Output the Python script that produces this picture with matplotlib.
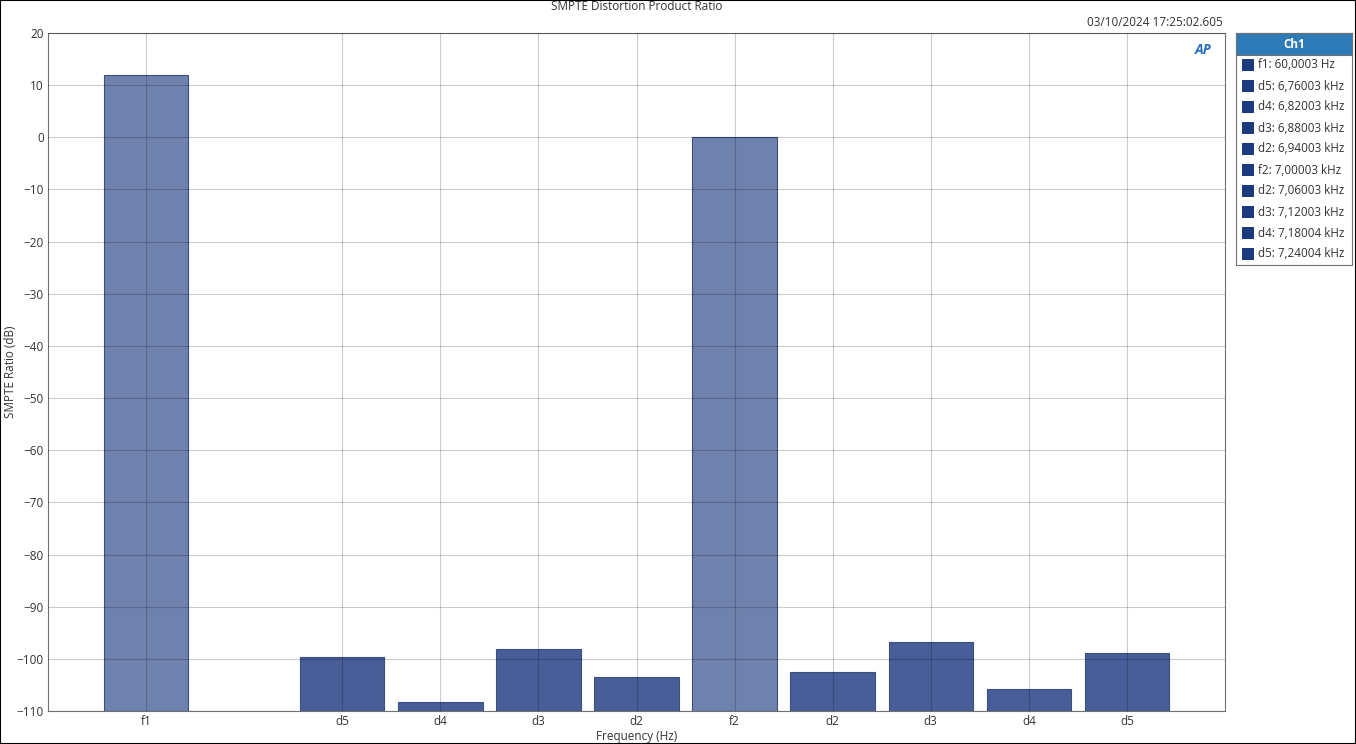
import numpy as np
import matplotlib
matplotlib.use("Agg")
import matplotlib.pyplot as plt
from matplotlib.patches import Rectangle

# data
positions = [0, 2, 3, 4, 5, 6, 7, 8, 9, 10]
labels = ["f1", "d5", "d4", "d3", "d2", "f2", "d2", "d3", "d4", "d5"]
ratio_db = [11.9, -99.7, -108.2, -98.2, -103.4, 0.0, -102.6, -96.8, -105.8, -98.9]
legend_items = ["f1: 60,0003 Hz", "d5: 6,76003 kHz", "d4: 6,82003 kHz",
                "d3: 6,88003 kHz", "d2: 6,94003 kHz", "f2: 7,00003 kHz",
                "d2: 7,06003 kHz", "d3: 7,12003 kHz", "d4: 7,18004 kHz",
                "d5: 7,24004 kHz"]

plt.rcParams['font.family'] = ['Open Sans', 'DejaVu Sans']

W, H = 1356, 744
fig = plt.figure(figsize=(W / 100, H / 100), dpi=100)
ax = fig.add_axes([48 / W, 1 - 711 / H, (1225 - 48) / W, (711 - 33) / H])

base = -110
colors = ["#6f82ae" if l.startswith("f") else "#475e98" for l in labels]
heights = [v - base for v in ratio_db]
ax.bar(positions, heights, bottom=base, width=0.86, color=colors,
       edgecolor="#3b4e7e", linewidth=0.8, zorder=1)

ax.set_xlim(-1, 11)
ax.set_ylim(-110, 20)
ax.set_yticks(np.arange(-110, 21, 10))
ax.set_xticks(positions)
ax.set_xticklabels(labels)
# translucent grid so it shows darker over the bars
ax.grid(True, color="black", alpha=0.2, linewidth=0.8, zorder=2)
ax.set_axisbelow(False)
for s in ax.spines.values():
    s.set_color("#707070")
ax.tick_params(length=0, labelsize=8.5, colors="#333333", pad=3)
ax.set_xlabel("Frequency (Hz)", fontsize=8.5, color="#333333", labelpad=1)

fig.text(11 / W, 1 - 372 / H, "SMPTE Ratio (dB)", rotation=90, ha="center",
         va="center", fontsize=8.5, color="#333333")
fig.text(637 / W, 1 - 7 / H, "SMPTE Distortion Product Ratio", ha="center",
         va="center", fontsize=8.5, color="#333333")
fig.text(1223 / W, 1 - 22 / H, "03/10/2024 17:25:02.605", ha="right",
         va="center", fontsize=8.5, color="#333333")
fig.text(1203 / W, 1 - 50 / H, "AP", ha="center", va="center", fontsize=10,
         fontweight="bold", style="italic", color="#2a6fc0")

# legend panel drawn by hand
lx0, lx1, ly0, ly1 = 1236, 1352, 33, 265
fig.patches.append(Rectangle((lx0 / W, 1 - ly1 / H), (lx1 - lx0) / W,
                             (ly1 - ly0) / H, transform=fig.transFigure,
                             facecolor="white", edgecolor="#707070", lw=0.8))
fig.patches.append(Rectangle((lx0 / W, 1 - 55 / H), (lx1 - lx0) / W,
                             22 / H, transform=fig.transFigure,
                             facecolor="#2f7bb8", edgecolor="#707070", lw=0.8))
fig.text((lx0 + lx1) / 2 / W, 1 - 44 / H, "Ch1", ha="center", va="center",
         fontsize=8.5, fontweight="bold", color="white")
for i, txt in enumerate(legend_items):
    y = 65 + i * 21
    fig.patches.append(Rectangle((1242 / W, 1 - (y + 6) / H), 12 / W, 12 / H,
                                 transform=fig.transFigure,
                                 facecolor="#1c3a7e", edgecolor="none"))
    fig.text(1258 / W, 1 - y / H, txt, ha="left", va="center",
             fontsize=8.4, color="#333333")

# outer frame
fig.patches.append(Rectangle((0, 0), 1, 1, transform=fig.transFigure,
                             facecolor="none", edgecolor="black", lw=1.5))

fig.savefig("out.png", dpi=100)
